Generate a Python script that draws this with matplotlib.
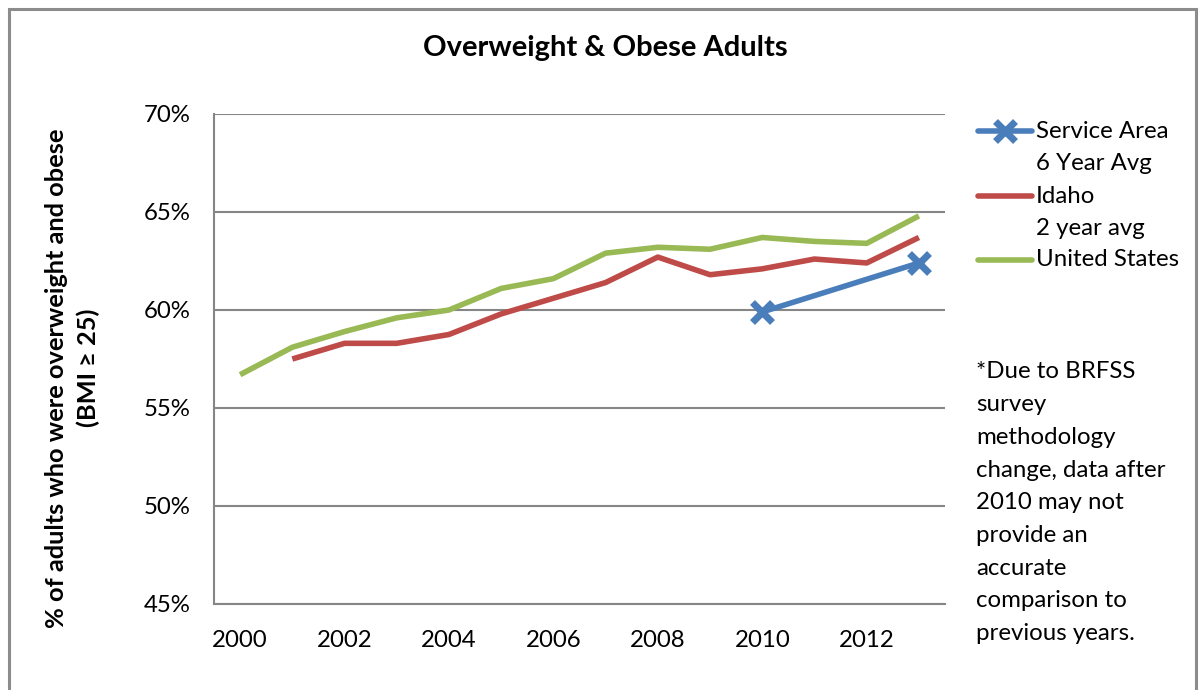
import matplotlib
matplotlib.use("Agg")
import matplotlib.pyplot as plt
from matplotlib.lines import Line2D
from matplotlib.patches import Rectangle
from matplotlib.ticker import FuncFormatter
import numpy as np

plt.rcParams['font.family'] = ['Lato', 'DejaVu Sans']

years = list(range(2000, 2014))
us = [56.7, 58.1, 58.9, 59.6, 60.0, 61.1, 61.6, 62.9, 63.2, 63.1, 63.7, 63.5, 63.4, 64.8]
idaho = [np.nan, 57.5, 58.3, 58.3, 58.75, 59.8, 60.6, 61.4, 62.7, 61.8, 62.1, 62.6, 62.4, 63.7]
service_years = [2010, 2013]
service = [59.9, 62.4]

labels = [["Service Area", "6 Year Avg"], ["Idaho", "2 year avg"], ["United States"]]
title = "Overweight & Obese Adults"
ylabel_lines = ["% of adults who were overweight and obese", "(BMI \u2265 25)"]
note_lines = ["*Due to BRFSS", "survey", "methodology", "change, data after", "2010 may not",
              "provide an", "accurate", "comparison to", "previous years."]

blue = "#4A7EBB"
red = "#BE4B48"
green = "#98B954"
grid = "#868686"
fs = 17.3

fig = plt.figure(figsize=(12.02, 6.90), dpi=100)
ax = fig.add_axes([214 / 1202, 1 - 604 / 690, (945 - 214) / 1202, (604 - 114) / 690])

lw = 4.0
ax.plot(years, us, color=green, lw=lw, solid_capstyle='butt', zorder=3)
ax.plot(years, idaho, color=red, lw=lw, solid_capstyle='butt', zorder=3)
ax.plot(service_years, service, color=blue, lw=lw, marker='x', ms=15, mew=5,
        solid_capstyle='butt', zorder=4)

ax.set_xlim(1999.5, 2013.5)
ax.set_ylim(45, 70)
ax.set_xticks(range(2000, 2013, 2))
ax.set_yticks(range(45, 71, 5))
ax.yaxis.set_major_formatter(FuncFormatter(lambda v, p: f"{v:.0f}%"))
ax.tick_params(axis='both', length=0, labelsize=fs, colors='black')
ax.tick_params(axis='y', pad=17)
ax.tick_params(axis='x', pad=19)
ax.grid(axis='y', color=grid, lw=1.5, zorder=1)
for side in ('top', 'right'):
    ax.spines[side].set_visible(False)
for side in ('left', 'bottom'):
    ax.spines[side].set_color(grid)
    ax.spines[side].set_linewidth(1.5)

fig.text(605 / 1202, 1 - 48 / 690, title, ha='center', va='center',
         fontsize=21, fontweight='bold')

# two-line axis title, each line centred on its own
for (xpix, ypix), line in zip([(57, 378), (88, 368)], ylabel_lines):
    fig.text(xpix / 1202, 1 - ypix / 690, line, ha='center', va='center', rotation=90,
             fontsize=18.3, fontweight='bold')

# legend drawn by hand so the handle sits on the first line of each label
row_step = 32.3
legend_rows = [131, 196, 260]
legend_colors = [blue, red, green]
for row, col, lab, mk in zip(legend_rows, legend_colors, labels, [True, False, False]):
    yf = 1 - row / 690
    fig.add_artist(Line2D([978 / 1202, 1032 / 1202], [yf, yf], color=col, lw=lw,
                          solid_capstyle='round', transform=fig.transFigure))
    if mk:
        fig.add_artist(Line2D([1005 / 1202], [yf], color=col, marker='x', ms=15,
                              mew=5, transform=fig.transFigure))
    for i, line in enumerate(lab):
        fig.text(1036 / 1202, 1 - (row + i * row_step) / 690, line, ha='left',
                 va='center', fontsize=fs)

note_step = 32.7
for i, line in enumerate(note_lines):
    fig.text(976 / 1202, 1 - (372 + i * note_step) / 690, line, ha='left',
             va='center', fontsize=fs)

fig.add_artist(Rectangle((9 / 1202, -0.1), (1196 - 9) / 1202, 1.1 - 9 / 690,
                         transform=fig.transFigure, fill=False, edgecolor='#8C8C8C',
                         lw=2.2, clip_on=False))

fig.savefig("out.png", dpi=100)
